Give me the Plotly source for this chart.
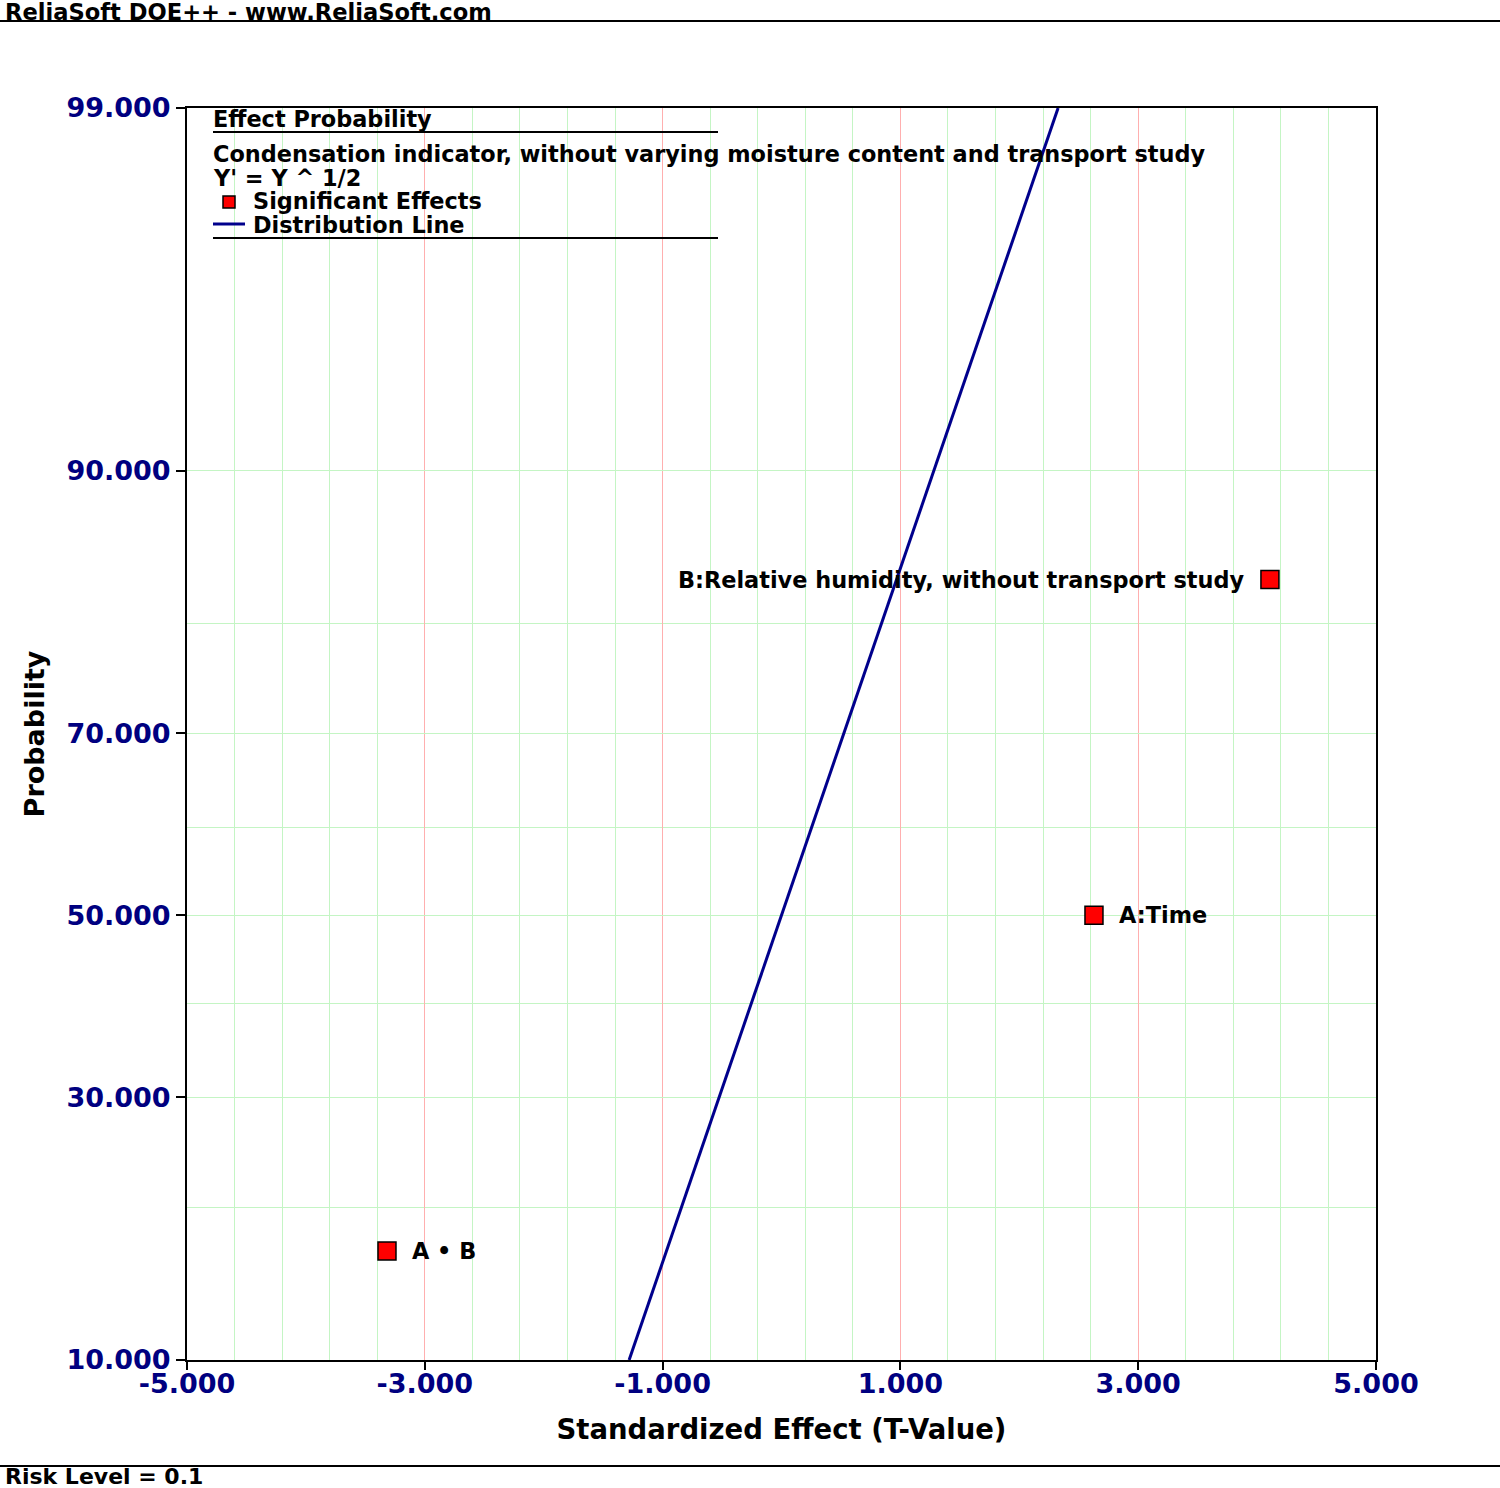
import plotly.graph_objects as go
from statistics import NormalDist

# ---- data ----
effect_names = ["A \u2022 B", "A:Time", "B:Relative humidity, without transport study"]
t_values = [-3.318, 2.628, 4.108]
probabilities = [16.667, 50.0, 83.333]          # percent
label_side = ["right", "right", "left"]

dist_mean = 0.0
dist_std = 1.0

y_tick_probs = [10, 30, 50, 70, 90, 99]
y_tick_text = ["10.000", "30.000", "50.000", "70.000", "90.000", "99.000"]
y_minor_probs = [20, 40, 60, 80]
x_tick_vals = [-5, -3, -1, 1, 3, 5]
x_tick_text = ["-5.000", "-3.000", "-1.000", "1.000", "3.000", "5.000"]

nd = NormalDist()
z = lambda p: nd.inv_cdf(p / 100.0)

y_lo, y_hi = z(10), z(99)
font = "DejaVu Sans"
navy = "rgb(0,0,128)"

fig = go.Figure()

# distribution line
line_z = [y_lo, y_hi]
line_x = [dist_mean + dist_std * v for v in line_z]
fig.add_trace(go.Scatter(x=line_x, y=line_z, mode="lines",
                         line=dict(color="rgb(0,0,140)", width=3),
                         showlegend=False, hoverinfo="skip"))

# effect points
pz = [z(p) for p in probabilities]
fig.add_trace(go.Scatter(x=t_values, y=pz, mode="markers",
                         marker=dict(symbol="square", size=18, color="red",
                                     line=dict(color="black", width=1.5)),
                         showlegend=False))

for name, xv, yv, side in zip(effect_names, t_values, pz, label_side):
    fig.add_annotation(x=xv, y=yv, xref="x", yref="y", text=name, showarrow=False,
                       xanchor="left" if side == "right" else "right",
                       xshift=23 if side == "right" else -23,
                       font=dict(family=font, size=22.4, color="black", weight="bold"))

# --- layout geometry in pixels ---
W, H = 1500, 1488
L, R, T, B = 187, 1376, 108, 1360
pw, ph = R - L, B - T
px = lambda x: (x - L) / pw
py = lambda y: (B - y) / ph

fig.update_layout(
    width=W, height=H,
    margin=dict(l=L, r=W - R, t=T, b=H - B, pad=0),
    plot_bgcolor="white", paper_bgcolor="white",
    xaxis=dict(range=[-5, 5], tickmode="array", tickvals=x_tick_vals, ticktext=x_tick_text,
               showgrid=True, gridcolor="rgb(255,175,175)", gridwidth=1,
               minor=dict(tickmode="linear", tick0=-5, dtick=0.4, showgrid=True,
                          gridcolor="rgb(196,245,196)", gridwidth=1, ticks=""),
               showline=True, linecolor="black", linewidth=2, mirror=True,
               ticks="outside", ticklen=8, tickcolor="black", tickwidth=2,
               ticklabelstandoff=-9,
               zeroline=False,
               tickfont=dict(family=font, size=27, color=navy, weight="bold"),
               title=dict(text="Standardized Effect (T-Value)", standoff=21,
                          font=dict(family=font, size=27.5, color="black", weight="bold"))),
    yaxis=dict(range=[y_lo, y_hi], tickmode="array",
               tickvals=[z(p) for p in y_tick_probs], ticktext=y_tick_text,
               showgrid=True, gridcolor="rgb(196,245,196)", gridwidth=1,
               minor=dict(tickmode="array", tickvals=[z(p) for p in y_minor_probs],
                          showgrid=True, gridcolor="rgb(196,245,196)", gridwidth=1, ticks=""),
               showline=True, linecolor="black", linewidth=2, mirror=True,
               ticks="outside", ticklen=9, tickcolor="black", tickwidth=2,
               zeroline=False,
               tickfont=dict(family=font, size=27, color=navy, weight="bold"),
               title=dict(text="Probability", standoff=14,
                          font=dict(family=font, size=27, color="black", weight="bold"))),
)

# header / footer
fig.add_annotation(x=px(3), y=py(12.5), xref="paper", yref="paper", text="ReliaSoft DOE++ - www.ReliaSoft.com",
                   showarrow=False, xanchor="left", yanchor="middle",
                   font=dict(family=font, size=22.6, color="black", weight="bold"))
fig.add_shape(type="line", xref="paper", yref="paper", x0=px(0), x1=px(W), y0=py(21), y1=py(21),
              line=dict(color="black", width=2))
fig.add_shape(type="line", xref="paper", yref="paper", x0=px(0), x1=px(W), y0=py(1466), y1=py(1466),
              line=dict(color="black", width=2))
fig.add_annotation(x=px(3), y=py(1476), xref="paper", yref="paper", text="Risk Level = 0.1",
                   showarrow=False, xanchor="left", yanchor="middle",
                   font=dict(family=font, size=22, color="black", weight="bold"))

# legend block
leg_font = dict(family=font, size=22.4, color="black", weight="bold")
fig.add_annotation(x=px(211), y=py(119), xref="paper", yref="paper", text="Effect Probability",
                   showarrow=False, xanchor="left", yanchor="middle", font=leg_font)
fig.add_shape(type="line", xref="paper", yref="paper", x0=px(213), x1=px(718), y0=py(132), y1=py(132),
              line=dict(color="black", width=2))
fig.add_annotation(x=px(211), y=py(154), xref="paper", yref="paper",
                   text="Condensation indicator, without varying moisture content and transport study",
                   showarrow=False, xanchor="left", yanchor="middle", font=leg_font)
fig.add_annotation(x=px(211), y=py(178), xref="paper", yref="paper", text="Y' = Y ^ 1/2",
                   showarrow=False, xanchor="left", yanchor="middle", font=leg_font)
fig.add_shape(type="rect", xref="paper", yref="paper", x0=px(223), x1=px(235), y0=py(196), y1=py(208),
              fillcolor="red", line=dict(color="black", width=1.5))
fig.add_annotation(x=px(251), y=py(201), xref="paper", yref="paper", text="Significant Effects",
                   showarrow=False, xanchor="left", yanchor="middle", font=leg_font)
fig.add_shape(type="line", xref="paper", yref="paper", x0=px(213), x1=px(245), y0=py(224), y1=py(224),
              line=dict(color="rgb(0,0,140)", width=3))
fig.add_annotation(x=px(251), y=py(225), xref="paper", yref="paper", text="Distribution Line",
                   showarrow=False, xanchor="left", yanchor="middle", font=leg_font)
fig.add_shape(type="line", xref="paper", yref="paper", x0=px(213), x1=px(718), y0=py(238), y1=py(238),
              line=dict(color="black", width=2))

fig.write_html("out.html", config={"displayModeBar": False},
               post_script="document.body.style.margin='0';document.body.style.overflow='hidden';")
